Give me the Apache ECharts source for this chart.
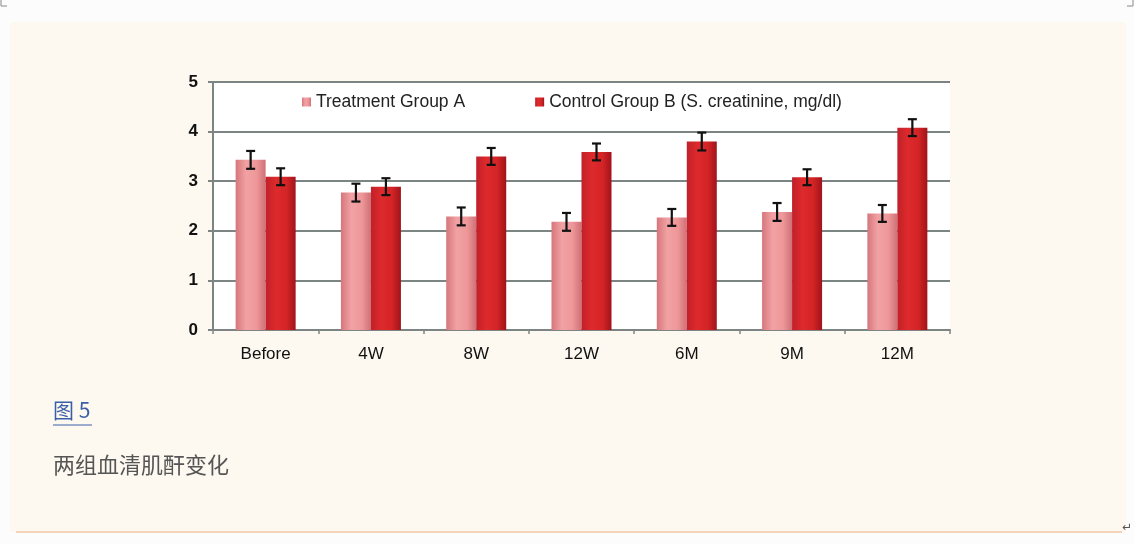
<!DOCTYPE html>
<html>
<head>
<meta charset="utf-8">
<script src="https://cdn.jsdelivr.net/npm/echarts@6/dist/echarts.min.js"></script>
<style>
html,body{margin:0;padding:0;background:#fdfcfd;}
#c{width:1134px;height:544px;}
</style>
</head>
<body>
<div id="c"></div>
<script>
const categories = ['Before', '4W', '8W', '12W', '6M', '9M', '12M'];
const groupA = [3.43, 2.77, 2.29, 2.18, 2.27, 2.38, 2.35];
const groupB = [3.09, 2.89, 3.50, 3.59, 3.80, 3.08, 4.08];
const errA = [0.18, 0.18, 0.18, 0.18, 0.17, 0.18, 0.17];
const errB = [0.17, 0.17, 0.17, 0.17, 0.18, 0.16, 0.17];
const seriesNames = ['Treatment Group A', 'Control Group B (S. creatinine, mg/dl)'];
const yTicks = [0, 1, 2, 3, 4, 5];
const captionLink = '图 5';
const captionText = '两组血清肌酐变化';

const chart = echarts.init(document.getElementById('c'), null, {renderer: 'canvas'});

const gradA = new echarts.graphic.LinearGradient(0, 0, 1, 0, [
  {offset: 0, color: '#d6767c'},
  {offset: 0.35, color: '#f2a2a4'},
  {offset: 0.7, color: '#ee9799'},
  {offset: 1, color: '#cf7076'}
]);
const gradB = new echarts.graphic.LinearGradient(0, 0, 1, 0, [
  {offset: 0, color: '#c0202a'},
  {offset: 0.35, color: '#de2a2c'},
  {offset: 0.7, color: '#d42426'},
  {offset: 1, color: '#a0141a'}
]);

function errData(vals, errs) {
  return vals.map((v, i) => [i, v - errs[i], v + errs[i]]);
}
function errRender(offset) {
  return function (params, api) {
    const lo = api.coord([api.value(0), api.value(1)]);
    const hi = api.coord([api.value(0), api.value(2)]);
    const x = lo[0] + offset;
    const cap = 4.5;
    const style = {stroke: '#111', lineWidth: 2.2, fill: null};
    return {
      type: 'group',
      children: [
        {type: 'line', shape: {x1: x, y1: lo[1], x2: x, y2: hi[1]}, style},
        {type: 'line', shape: {x1: x - cap, y1: lo[1], x2: x + cap, y2: lo[1]}, style},
        {type: 'line', shape: {x1: x - cap, y1: hi[1], x2: x + cap, y2: hi[1]}, style}
      ]
    };
  };
}

const option = {
  backgroundColor: '#fdfcfd',
  animation: false,
  graphic: [
    {type: 'rect', z: -10, shape: {x: 10, y: 22, width: 1116, height: 510, r: 3},
     style: {fill: '#fdf9f0', stroke: null}},
    {type: 'line', z: -9, shape: {x1: 16, y1: 532, x2: 1122, y2: 532},
     style: {stroke: '#f0c6a4', lineWidth: 1.5}},
    {type: 'polyline', shape: {points: [[1, 0], [1, 6], [7, 6]]}, style: {stroke: '#888', lineWidth: 1, fill: null}},
    {type: 'polyline', shape: {points: [[1133, 0], [1133, 6], [1127, 6]]}, style: {stroke: '#888', lineWidth: 1, fill: null}},
    {type: 'text', left: 1122, top: 522, style: {text: '↵', fill: '#555', font: '12px "DejaVu Sans"'}},
    {type: 'text', left: 53, top: 400, style: {text: captionLink, fill: '#3a5ea8', font: '21px "Noto Sans CJK SC"'}},
    {type: 'line', shape: {x1: 53, y1: 425, x2: 92, y2: 425}, style: {stroke: '#3a5ea8', lineWidth: 1}},
    {type: 'text', left: 53, top: 454, style: {text: captionText, fill: '#555', font: '22px "Noto Sans CJK SC"'}}
  ],
  grid: {left: 213, top: 82, right: 184, bottom: 214, show: true, backgroundColor: '#ffffff', borderWidth: 0},
  legend: {
    left: 302, top: 93, padding: 0, itemWidth: 9, itemHeight: 9, itemGap: 70,
    icon: 'rect',
    data: seriesNames,
    textStyle: {fontFamily: 'Liberation Sans', fontSize: 17.5, color: '#222'}
  },
  xAxis: {
    type: 'category', data: categories,
    axisLine: {lineStyle: {color: '#7c8584', width: 2}},
    axisTick: {show: true, length: 4, lineStyle: {color: '#7c8584', width: 1.5}},
    axisLabel: {fontFamily: 'Liberation Sans', fontSize: 17, color: '#111', margin: 16}
  },
  yAxis: {
    type: 'value', min: 0, max: 5, interval: 1,
    axisLine: {show: true, lineStyle: {color: '#7c8584', width: 2}},
    axisTick: {show: true, length: 5, lineStyle: {color: '#7c8584', width: 2}},
    splitLine: {lineStyle: {color: '#7c8584', width: 2}},
    axisLabel: {fontFamily: 'Liberation Sans', fontSize: 17, fontWeight: 'bold', color: '#111', margin: 15,
      formatter: v => yTicks.includes(v) ? String(v) : ''}
  },
  series: [
    {name: seriesNames[0], type: 'bar', data: groupA, barWidth: 30, barGap: '0%',
     itemStyle: {color: gradA}},
    {name: seriesNames[1], type: 'bar', data: groupB, barWidth: 30,
     itemStyle: {color: gradB}},
    {type: 'custom', data: errData(groupA, errA), renderItem: errRender(-15), z: 5},
    {type: 'custom', data: errData(groupB, errB), renderItem: errRender(15), z: 5}
  ]
};
chart.setOption(option);
</script>
</body>
</html>
